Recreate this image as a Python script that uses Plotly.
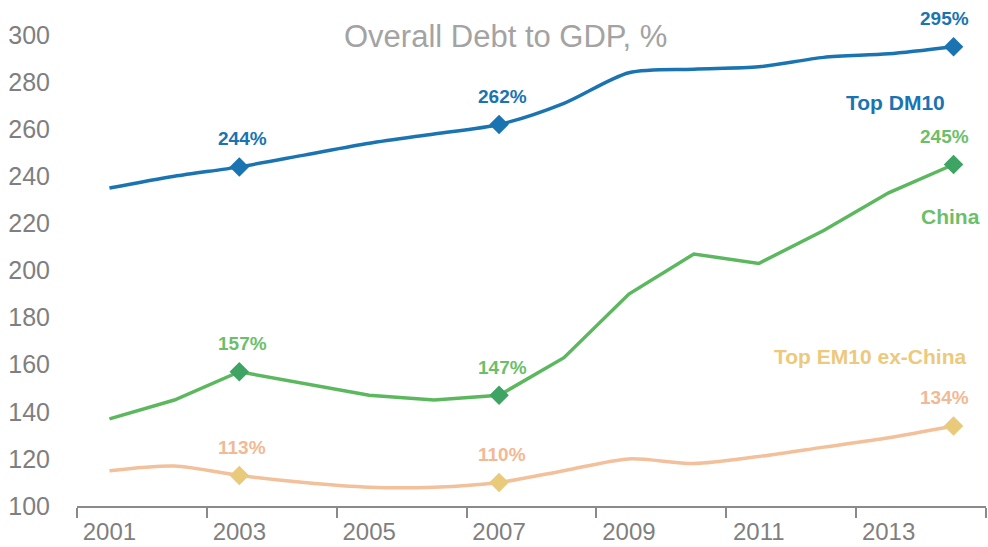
import plotly.graph_objects as go

years = list(range(2001, 2015))
dm10 = [235, 240, 244, 249, 254, 258, 262, 271, 284, 285.5, 286.5, 290.5, 292, 295]
china = [137, 145, 157, 152, 147, 145, 147, 163, 190, 207, 203, 217, 233, 245]
em10 = [115, 117, 113, 110, 108, 108, 110, 115, 120, 118, 121, 125, 129, 134]

marker_years = [2003, 2007, 2014]
dm10_labels = ["244%", "262%", "295%"]
china_labels = ["157%", "147%", "245%"]
em10_labels = ["113%", "110%", "134%"]

x_tick_vals = [2001, 2003, 2005, 2007, 2009, 2011, 2013]
x_boundaries = [2000.5 + 2 * i for i in range(8)]
y_tick_vals = list(range(100, 301, 20))

BLUE = "#1a74b1"
GREEN_LINE = "#5cb85f"
GREEN_MARK = "#3ea464"
PEACH_LINE = "#f2c09a"
PEACH_MARK = "#e9c97a"
GREEN_TXT = "#6cbf6a"
PEACH_TXT = "#f1b994"
NAME_YEL = "#ecc97c"
GREY = "#7f7f7f"

FONT = "Liberation Sans, Arial, sans-serif"

fig = go.Figure()

def val_at(series, yr):
    return series[years.index(yr)]

series = [
    (dm10, BLUE, BLUE, "spline", dm10_labels, BLUE),
    (china, GREEN_LINE, GREEN_MARK, "linear", china_labels, GREEN_TXT),
    (em10, PEACH_LINE, PEACH_MARK, "spline", em10_labels, PEACH_TXT),
]

for data, lc, mc, shape, labels, tc in series:
    fig.add_trace(go.Scatter(
        x=years, y=data, mode="lines",
        line=dict(color=lc, width=3.5, shape=shape, smoothing=0.8),
        hoverinfo="skip", showlegend=False, cliponaxis=False,
    ))
    fig.add_trace(go.Scatter(
        x=marker_years, y=[val_at(data, yr) for yr in marker_years],
        mode="markers",
        marker=dict(symbol="diamond", size=15, color=mc, line=dict(width=0)),
        hoverinfo="skip", showlegend=False, cliponaxis=False,
    ))
    for yr, lab in zip(marker_years, labels):
        fig.add_annotation(
            x=yr, y=val_at(data, yr), text="<b>%s</b>" % lab,
            showarrow=False, yshift=28, xshift=(-9 if yr == 2014 else 3),
            font=dict(family=FONT, size=19, color=tc),
        )

# series names
fig.add_annotation(x=2013.11, y=271.5, text="<b>Top DM10</b>", showarrow=False,
                   font=dict(family=FONT, size=21, color=BLUE))
fig.add_annotation(x=2013.95, y=223, text="<b>China</b>", showarrow=False,
                   font=dict(family=FONT, size=21, color=GREEN_TXT))
fig.add_annotation(x=2012.71, y=163.3, text="<b>Top EM10 ex-China</b>", showarrow=False,
                   font=dict(family=FONT, size=21, color=NAME_YEL))

fig.add_annotation(xref="paper", yref="paper", x=(505 - 77) / 909, y=1.0,
                   yshift=-1, text="Overall Debt to GDP, %", showarrow=False,
                   font=dict(family=FONT, size=31, color="#a3a3a3"),
                   yanchor="middle")

fig.update_layout(
    width=988, height=547,
    margin=dict(l=77, r=2, t=35, b=41, autoexpand=False),
    paper_bgcolor="white", plot_bgcolor="white",
    font=dict(family=FONT),
    xaxis=dict(
        range=[2000.5, 2014.5], tickmode="array", tickvals=x_tick_vals,
        ticktext=[str(v) for v in x_tick_vals],
        ticks="outside", ticklen=3, tickcolor="rgba(0,0,0,0)",
        showgrid=False, zeroline=False, automargin=False,
        showline=True, linecolor="#8a8a8a", linewidth=2,
        tickfont=dict(family=FONT, size=24, color=GREY),
        minor=dict(tickmode="array", tickvals=x_boundaries, ticks="outside",
                   ticklen=10, tickcolor="#8a8a8a", tickwidth=1.5, showgrid=False),
        fixedrange=True,
    ),
    yaxis=dict(
        range=[100, 300], tickmode="array", tickvals=y_tick_vals,
        ticks="outside", ticklen=21, tickcolor="rgba(0,0,0,0)",
        showgrid=False, zeroline=False, showline=False, automargin=False,
        tickfont=dict(family=FONT, size=25, color=GREY),
        fixedrange=True,
    ),
)

fig.write_html("out.html")
